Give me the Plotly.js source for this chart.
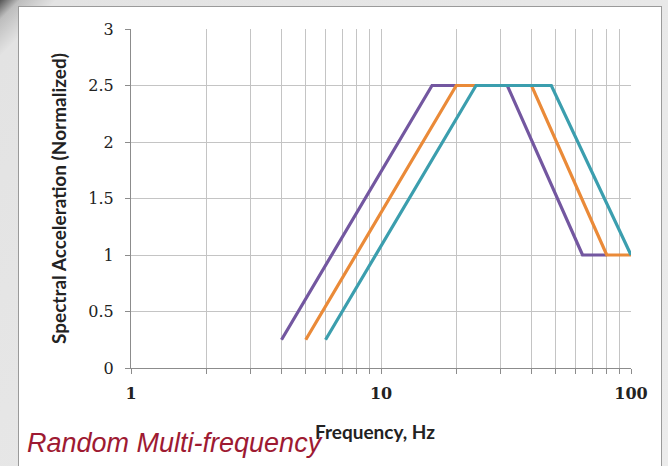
<!DOCTYPE html>
<html>
<head>
<meta charset="utf-8">
<script src="https://cdn.plot.ly/plotly-3.0.1.min.js"></script>
<style>
html,body{margin:0;padding:0;width:668px;height:466px;overflow:hidden;
background:linear-gradient(135deg,#555 0px,#bdbdbd 14px,#e3e3e3 40px,#ececec 100%);}
#chart{position:absolute;left:18px;top:6px;width:642px;height:460px;border:1px solid #9a9a9a;background:#fff;}
</style>
</head>
<body>
<div id="chart"></div>
<script>
// Series data (frequency in Hz, normalized spectral acceleration)
const purpleFreq = [4, 16, 32, 64, 80];
const purpleAcc  = [0.25, 2.5, 2.5, 1, 1];
const orangeFreq = [5, 20, 40, 80, 100];
const orangeAcc  = [0.25, 2.5, 2.5, 1, 1];
const tealFreq   = [6, 24, 48, 100];
const tealAcc    = [0.25, 2.5, 2.5, 1];

// Tick definitions
const xTickVals = [1,2,3,4,5,6,7,8,9,10,20,30,40,50,60,70,80,90,100];
const xTickText = ['1','','','','','','','','','10','','','','','','','','','100'];
const yTickVals = [0,0.5,1,1.5,2,2.5,3];
const yTickText = ['0','0.5','1','1.5','2','2.5','3'];

const lineW = 3.2;
const traces = [
  {x: purpleFreq, y: purpleAcc, mode:'lines', line:{color:'#7357a0', width:lineW}},
  {x: orangeFreq, y: orangeAcc, mode:'lines', line:{color:'#ea8a38', width:lineW}},
  {x: tealFreq,   y: tealAcc,   mode:'lines', line:{color:'#3b9eae', width:lineW}}
];

const layout = {
  width: 642, height: 460,
  margin: {l:112, r:30, t:22, b:99},
  paper_bgcolor:'#ffffff', plot_bgcolor:'#ffffff',
  showlegend:false,
  xaxis:{
    type:'log', range:[0,2],
    tickmode:'array', tickvals:xTickVals, ticktext:xTickText,
    showgrid:true, gridcolor:'#c4c4c4', gridwidth:1,
    showline:true, linecolor:'#8c8c8c', linewidth:1,
    ticks:'outside', ticklen:5, tickcolor:'#8c8c8c',
    ticklabelstandoff:6,
    tickfont:{family:'DejaVu Serif, serif', size:16, color:'#222', weight:'bold'},
    zeroline:false
  },
  yaxis:{
    range:[0,3],
    tickmode:'array', tickvals:yTickVals, ticktext:yTickText,
    showgrid:true, gridcolor:'#c4c4c4', gridwidth:1,
    showline:true, linecolor:'#8c8c8c', linewidth:1,
    ticks:'outside', ticklen:5, tickcolor:'#8c8c8c',
    ticklabelstandoff:8,
    tickfont:{family:'DejaVu Serif, serif', size:16, color:'#222'},
    zeroline:false,
    title:{text:'<b>Spectral Acceleration (Normalized)</b>', font:{family:'Lato, sans-serif', size:19, color:'#222'}, standoff:16}
  },
  annotations:[
    {
      xref:'paper', yref:'paper', x:0.488, y:-0.186, xanchor:'center', yanchor:'middle',
      text:'<b>Frequency, Hz</b>', showarrow:false,
      font:{family:'Lato, sans-serif', size:19, color:'#222'}
    },
    {
      xref:'paper', yref:'paper', x:-0.212, y:-0.221, xanchor:'left', yanchor:'middle',
      text:'<i>Random Multi-frequency</i>', showarrow:false,
      font:{family:'Liberation Sans, Arial, sans-serif', size:27, color:'#9e1a32'}
    }
  ]
};

Plotly.newPlot('chart', traces, layout, {displayModeBar:false, staticPlot:true});
</script>
</body>
</html>
